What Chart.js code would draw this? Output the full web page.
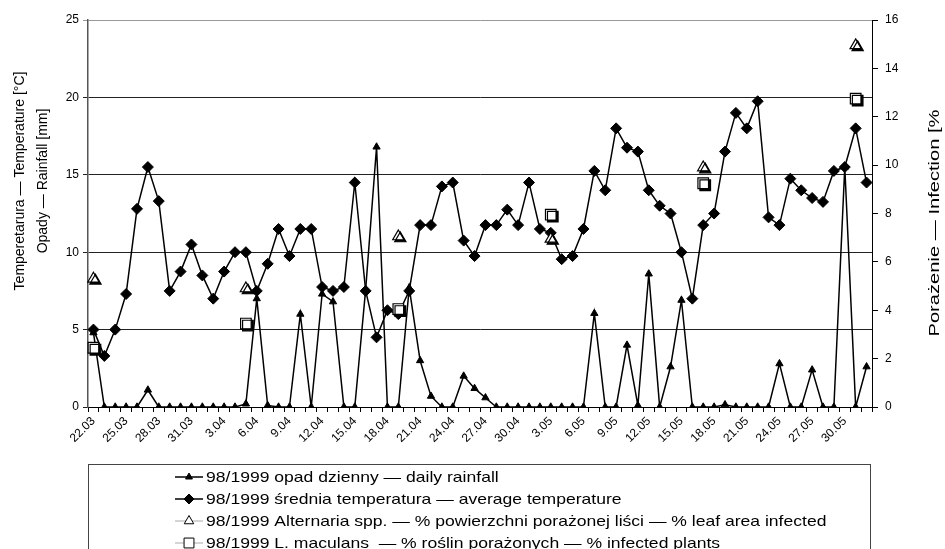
<!DOCTYPE html>
<html><head><meta charset="utf-8">
<script src="https://cdn.jsdelivr.net/npm/chart.js@4.4.1/dist/chart.umd.min.js"></script>
<style>html,body{margin:0;padding:0;background:#fff}#wrap{width:945px;height:549px;position:relative}</style>
</head><body><div id="wrap"><canvas id="c" width="945" height="549"></canvas></div>
<script>
const dates = ['22.03','23.03','24.03','25.03','26.03','27.03','28.03','29.03','30.03','31.03',
'1.04','2.04','3.04','4.04','5.04','6.04','7.04','8.04','9.04','10.04','11.04','12.04','13.04','14.04','15.04',
'16.04','17.04','18.04','19.04','20.04','21.04','22.04','23.04','24.04','25.04','26.04','27.04','28.04','29.04','30.04',
'1.05','2.05','3.05','4.05','5.05','6.05','7.05','8.05','9.05','10.05','11.05','12.05','13.05','14.05','15.05',
'16.05','17.05','18.05','19.05','20.05','21.05','22.05','23.05','24.05','25.05','26.05','27.05','28.05','29.05','30.05','31.05','1.06'];
const rainfall = [4.8,0,0,0,0,1.1,0,0,0,0,
0,0,0,0,0.2,7.0,0.1,0,0,6.0,0,7.3,6.8,0,0,
7.6,16.8,0,0,7.7,3.0,0.7,0,0,2.0,1.2,0.6,0,0,0,
0,0,0,0,0,0,6.05,0,0,4.0,0.1,8.6,0,2.6,6.9,
0,0,0,0.15,0,0,0,0,2.8,0,0,2.4,0,0,15.5,0,2.6];
const temperature = [5.0,3.3,5.0,7.3,12.8,15.5,13.3,7.5,8.75,10.5,
8.5,7.0,8.75,10.0,10.0,7.5,9.25,11.5,9.75,11.5,11.5,7.75,7.5,7.75,14.5,
7.5,4.5,6.25,6.0,7.5,11.75,11.75,14.25,14.5,10.75,9.75,11.75,11.75,12.75,11.75,
14.5,11.5,11.25,9.55,9.75,11.5,15.25,14.0,18.0,16.75,16.5,14.0,13.0,12.5,10.0,
7.0,11.75,12.5,16.5,19.0,18.0,19.75,12.25,11.75,14.75,14.0,13.5,13.25,15.25,15.5,18.0,14.5];
const infectionDays = ['22.03','5.04','19.04','3.05','17.05','31.05'];
const alternaria = [5.3,4.9,7.05,6.95,9.9,14.95];
const maculans = [2.45,3.45,4.05,7.95,9.25,12.75];
const leftTicks = [0,5,10,15,20,25];
const rightTicks = [0,2,4,6,8,10,12,14,16];

const FONT = "'Liberation Sans', Arial, sans-serif";
Chart.defaults.font.family = FONT;
Chart.defaults.color = '#000';

const shadowPlugin = {
  id: 'shadow',
  beforeDatasetDraw(chart, args) {
    if (chart.data.datasets[args.index].shadow) {
      const ctx = chart.ctx; ctx.save();
      ctx.shadowColor = '#000'; ctx.shadowOffsetX = 2; ctx.shadowOffsetY = 2; ctx.shadowBlur = 0;
    }
  },
  afterDatasetDraw(chart, args) {
    if (chart.data.datasets[args.index].shadow) chart.ctx.restore();
  }
};

function rotatedText(ctx, text, cx, cy, targetLen) {
  ctx.save();
  ctx.translate(cx, cy); ctx.rotate(-Math.PI / 2);
  if (targetLen) {
    const w = ctx.measureText(text).width;
    ctx.scale(targetLen / w, 1);
  }
  ctx.fillText(text, 0, 0);
  ctx.restore();
}

const titlesPlugin = {
  id: 'titles',
  afterDraw(chart) {
    const ctx = chart.ctx;
    ctx.save();
    ctx.fillStyle = '#000';
    ctx.font = '14px ' + FONT;
    ctx.textAlign = 'center'; ctx.textBaseline = 'middle';
    rotatedText(ctx, 'Temperetarura \u2014 Temperature [\u00B0C]', 20, 181);
    rotatedText(ctx, 'Opady \u2014 Rainfall [mm]', 43, 181);
    ctx.font = '15px ' + FONT;
    rotatedText(ctx, 'Pora\u017Cenie \u2014 Infection [%', 935, 223, 227);
    ctx.strokeStyle = '#444'; ctx.lineWidth = 1;
    ctx.strokeRect(88.5, 464.5, 782, 100);
    ctx.restore();
  }
};

const legendPlugin = {
  id: 'legendDraw',
  afterDraw(chart) {
    const ctx = chart.ctx;
    const rows = [477, 499, 521, 543];
    const x0 = 175, x1 = 203, xm = 189;
    ctx.save();
    chart.data.datasets.forEach((ds) => {
      const y = rows[ds.legendRow];
      ctx.strokeStyle = ds.legendLine; ctx.lineWidth = ds.legendLine === '#000' ? 1.5 : 1;
      ctx.beginPath(); ctx.moveTo(x0, y); ctx.lineTo(x1, y); ctx.stroke();
      ctx.fillStyle = ds.pointBackgroundColor; ctx.strokeStyle = '#000'; ctx.lineWidth = 1;
      Chart.helpers.drawPoint(ctx, { pointStyle: ds.pointStyle, radius: ds.legendRadius, borderWidth: 1 }, xm, y);
      ctx.fillStyle = '#000';
      ctx.font = '15px ' + FONT; ctx.textAlign = 'left'; ctx.textBaseline = 'middle';
      ctx.save(); ctx.translate(206, y + 1); ctx.scale(1.17, 1);
      ctx.fillText(ds.label, 0, 0);
      ctx.restore();
    });
    ctx.restore();
  }
};

const toXY = (days, vals) => days.map((d, i) => ({ x: d, y: vals[i] }));

new Chart(document.getElementById('c'), {
  type: 'line',
  data: {
    labels: dates,
    datasets: [
      {
        label: '98/1999 Alternaria spp. \u2014 % powierzchni pora\u017Conej li\u015Bci \u2014 % leaf area infected',
        data: toXY(infectionDays, alternaria), yAxisID: 'y2', showLine: false,
        pointStyle: 'triangle', pointRadius: 6.5, pointBackgroundColor: '#fff', pointBorderColor: '#000', pointBorderWidth: 1.2,
        borderColor: '#000', order: 0, shadow: true, legendRow: 2, legendLine: '#aaa', legendRadius: 5.5
      },
      {
        label: '98/1999 L. maculans  \u2014 % ro\u015Blin pora\u017Conych \u2014 % infected plants',
        data: toXY(infectionDays, maculans), yAxisID: 'y2', showLine: false,
        pointStyle: 'rect', pointRadius: 7.5, pointBackgroundColor: '#fff', pointBorderColor: '#000', pointBorderWidth: 1.2,
        borderColor: '#000', order: 0, shadow: true, legendRow: 3, legendLine: '#aaa', legendRadius: 7
      },
      {
        label: '98/1999 \u015Brednia temperatura \u2014 average temperature',
        data: temperature, yAxisID: 'y', borderColor: '#000', borderWidth: 1.5, tension: 0,
        pointStyle: 'rectRot', pointRadius: 5.5, pointBackgroundColor: '#000', pointBorderColor: '#000', pointBorderWidth: 1,
        order: 1, legendRow: 1, legendLine: '#000', legendRadius: 5
      },
      {
        label: '98/1999 opad dzienny \u2014 daily rainfall',
        data: rainfall, yAxisID: 'y', borderColor: '#000', borderWidth: 1.5, tension: 0,
        pointStyle: 'triangle', pointRadius: 4.2, pointBackgroundColor: '#000', pointBorderColor: '#000', pointBorderWidth: 1,
        order: 2, legendRow: 0, legendLine: '#000', legendRadius: 4
      }
    ]
  },
  options: {
    responsive: false, animation: false,
    layout: { padding: { top: 20, left: 0, right: 0, bottom: 0 } },
    plugins: { legend: { display: false }, tooltip: { enabled: false } },
    elements: { point: { hoverRadius: 0 } },
    scales: {
      x: {
        type: 'category',
        offset: true,
        grid: { display: true, drawOnChartArea: false, offset: true, tickLength: 5, color: '#000', lineWidth: 1 },
        border: { color: '#000', width: 1 },
        ticks: {
          autoSkip: false, maxRotation: 45, minRotation: 45, padding: 2,
          font: { size: 12 }, color: '#000',
          callback: function (v, i) { return i % 3 === 0 ? dates[i] : ''; }
        },
        afterFit(s) { s.height = 142; }
      },
      y: {
        position: 'left', min: 0, max: 25,
        afterBuildTicks(s) { s.ticks = leftTicks.map(v => ({ value: v })); },
        grid: { color: (c) => c.tick && c.tick.value === 25 ? '#999' : '#222', lineWidth: 1, tickLength: 5 },
        border: { color: '#555', width: 1.5 },
        ticks: { font: { size: 12 }, color: '#000', padding: 4 },
        afterFit(s) { s.width = 88; }
      },
      y2: {
        position: 'right', min: 0, max: 16,
        afterBuildTicks(s) { s.ticks = rightTicks.map(v => ({ value: v })); },
        grid: { drawOnChartArea: false, color: '#000', tickLength: 6 },
        border: { color: '#000', width: 1 },
        ticks: { font: { size: 12 }, color: '#000', padding: 7 },
        afterFit(s) { s.width = 73; }
      }
    }
  },
  plugins: [shadowPlugin, titlesPlugin, legendPlugin]
});
</script>
</body></html>
